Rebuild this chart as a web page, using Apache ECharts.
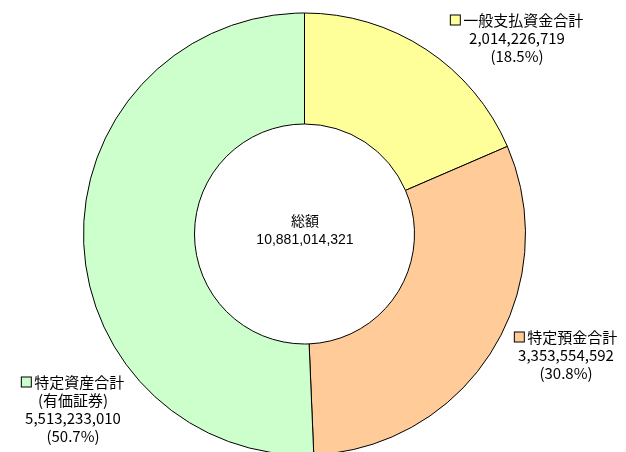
<!DOCTYPE html>
<html>
<head>
<meta charset="utf-8">
<script src="https://cdn.jsdelivr.net/npm/echarts@6/dist/echarts.min.js"></script>
<style>html,body{margin:0;padding:0;background:#fff}#c{width:626px;height:452px}</style>
</head>
<body>
<div id="c"></div>
<script>
const categories = ['一般支払資金合計', '特定預金合計', '特定資産合計\n(有価証券)'];
const values = [2014226719, 3353554592, 5513233010];
const colors = ['#FFFF99', '#FFCC99', '#CCFFCC'];
const centerTitle = '総額';

const total = values.reduce((a, b) => a + b, 0);
const fmt = n => String(n).replace(/\B(?=(\d{3})+(?!\d))/g, ',');
const labelPos = [
  { x: 517, y: 38 },
  { x: 566, y: 355 },
  { x: 73, y: 409 }
];

const rich = {};
colors.forEach((c, i) => {
  rich['m' + i] = { width: 9, height: 9, backgroundColor: c, borderColor: '#000', borderWidth: 1 };
});

const chart = echarts.init(document.getElementById('c'));
chart.setOption({
  animation: false,
  graphic: [
    { type: 'text', x: 305, y: 221, style: { text: centerTitle, align: 'center', verticalAlign: 'middle', font: '14px "Noto Sans CJK JP"', fill: '#000' } },
    { type: 'text', x: 305, y: 240, style: { text: fmt(total), align: 'center', verticalAlign: 'middle', font: '14px "Liberation Sans"', fill: '#000' } }
  ],
  series: [{
    type: 'pie',
    center: [304.5, 234],
    radius: [110, 221],
    startAngle: 90,
    clockwise: true,
    silent: true,
    itemStyle: { borderColor: '#000', borderWidth: 1 },
    emphasis: { disabled: true },
    labelLine: { show: false },
    label: {
      show: true,
      position: 'outside',
      overflow: 'none',
      width: 200,
      color: '#000',
      fontFamily: '"Noto Sans CJK JP"',
      fontSize: 15,
      lineHeight: 18,
      align: 'center',
      rich: Object.assign({}, rich, { t: { fontFamily: '"Noto Sans CJK JP"', fontSize: 15, lineHeight: 18, color: '#000' } }),
      formatter: p => {
        const lines = p.name.split('\n');
        const pct = (p.value / total * 100).toFixed(1);
        return '{m' + p.dataIndex + '|}{t| ' + lines[0] + '}' +
          lines.slice(1).map(l => '\n' + l).join('') +
          '\n' + fmt(p.value) + '\n(' + pct + '%)';
      }
    },
    labelLayout: p => ({ x: labelPos[p.dataIndex].x, y: labelPos[p.dataIndex].y, align: 'center', verticalAlign: 'middle' }),
    data: categories.map((n, i) => ({ name: n, value: values[i], itemStyle: { color: colors[i] } }))
  }]
});
</script>
</body>
</html>
